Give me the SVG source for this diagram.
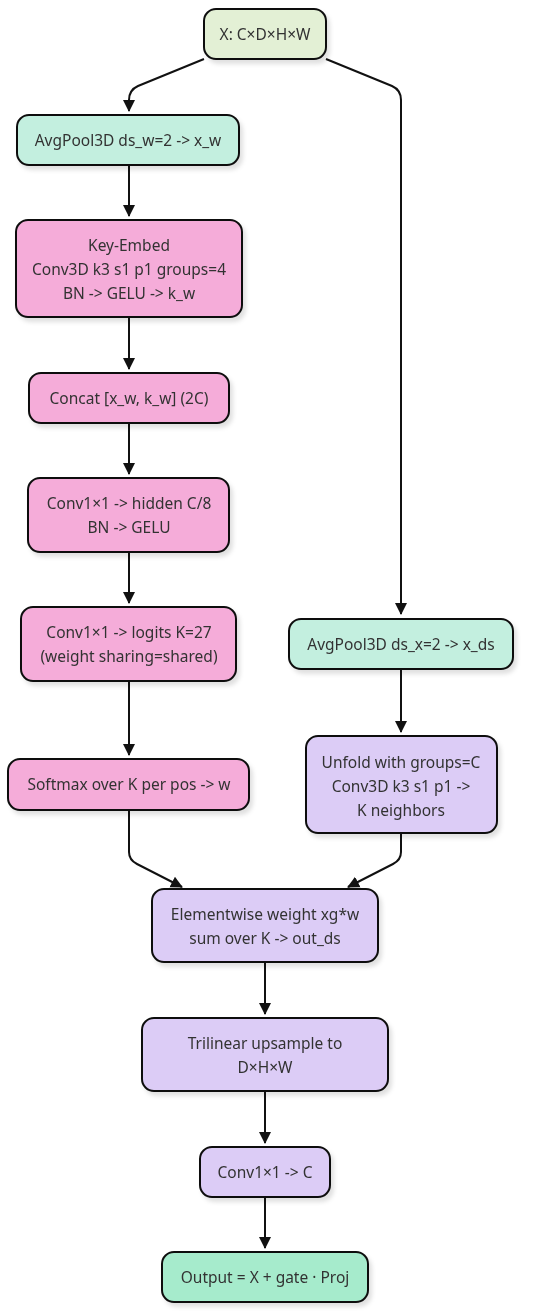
<svg xmlns="http://www.w3.org/2000/svg" width="550" height="1312" viewBox="0 0 550 1312">
<defs>
<style>
.n rect{stroke:#111;stroke-width:2;}
.n text{font-family:"Noto Sans","DejaVu Sans",sans-serif;font-size:15.5px;fill:#333;text-anchor:middle;dominant-baseline:central;}
.in rect{fill:#e3f0d5;}
.pool rect{fill:#c3efdf;}
.pink rect{fill:#f5acd9;}
.purp rect{fill:#dcccf6;}
.out rect{fill:#a6ebcc;}
#edges path{fill:none;stroke:#111;stroke-width:2;}
</style>
<filter id="sh" x="-10%" y="-10%" width="130%" height="140%">
<feDropShadow dx="3" dy="4" stdDeviation="2" flood-color="#000" flood-opacity="0.12"/>
</filter>
<marker id="ah" viewBox="0 0 12 12" refX="11" refY="6" markerWidth="12" markerHeight="13" markerUnits="userSpaceOnUse" orient="auto">
<path d="M0,0 L12,6 L0,12 z" fill="#111"/>
</marker>
</defs>
<rect width="550" height="1312" fill="#fff"/>
<g id="edges">
<path d="M204,59 L138,86 Q129,90 129,100 L129,111" marker-end="url(#ah)"/>
<path d="M326,59 L392,86 Q401,90 401,100 L401,614" marker-end="url(#ah)"/>
<path d="M129,165 L129,216" marker-end="url(#ah)"/>
<path d="M129,317 L129,369" marker-end="url(#ah)"/>
<path d="M129,423 L129,474" marker-end="url(#ah)"/>
<path d="M129,552 L129,603" marker-end="url(#ah)"/>
<path d="M129,681 L129,755" marker-end="url(#ah)"/>
<path d="M401,669 L401,732" marker-end="url(#ah)"/>
<path d="M129,810 L129,852 Q129,860 137,864 L182,887" marker-end="url(#ah)"/>
<path d="M401,833 L401,852 Q401,860 393,864 L348,887" marker-end="url(#ah)"/>
<path d="M265,962 L265,1014" marker-end="url(#ah)"/>
<path d="M265,1091 L265,1143" marker-end="url(#ah)"/>
<path d="M265,1197 L265,1248" marker-end="url(#ah)"/>
</g>
<g id="nX" class="n in" filter="url(#sh)"><rect x="204" y="9" width="122" height="50" rx="12"/><text x="265" y="34">X: C×D×H×W</text></g>
<g id="nPoolW" class="n pool" filter="url(#sh)"><rect x="17" y="115" width="222" height="50" rx="12"/><text x="128" y="140">AvgPool3D ds_w=2 -&gt; x_w</text></g>
<g id="nKey" class="n pink" filter="url(#sh)"><rect x="16" y="220" width="226" height="97" rx="12"/><text x="129" y="245">Key-Embed</text><text x="129" y="269">Conv3D k3 s1 p1 groups=4</text><text x="129" y="293">BN -&gt; GELU -&gt; k_w</text></g>
<g id="nConcat" class="n pink" filter="url(#sh)"><rect x="29" y="373" width="200" height="50" rx="12"/><text x="129" y="398">Concat [x_w, k_w] (2C)</text></g>
<g id="nHidden" class="n pink" filter="url(#sh)"><rect x="28" y="478" width="201" height="74" rx="12"/><text x="129" y="503">Conv1×1 -&gt; hidden C/8</text><text x="129" y="527">BN -&gt; GELU</text></g>
<g id="nLogits" class="n pink" filter="url(#sh)"><rect x="21" y="607" width="215" height="74" rx="12"/><text x="129" y="632">Conv1×1 -&gt; logits K=27</text><text x="129" y="656">(weight sharing=shared)</text></g>
<g id="nSoftmax" class="n pink" filter="url(#sh)"><rect x="8" y="759" width="241" height="51" rx="12"/><text x="129" y="784">Softmax over K per pos -&gt; w</text></g>
<g id="nPoolX" class="n pool" filter="url(#sh)"><rect x="289" y="619" width="224" height="50" rx="12"/><text x="401" y="644">AvgPool3D ds_x=2 -&gt; x_ds</text></g>
<g id="nUnfold" class="n purp" filter="url(#sh)"><rect x="306" y="736" width="191" height="97" rx="12"/><text x="401" y="762">Unfold with groups=C</text><text x="401" y="786">Conv3D k3 s1 p1 -&gt;</text><text x="401" y="810">K neighbors</text></g>
<g id="nElem" class="n purp" filter="url(#sh)"><rect x="152" y="889" width="226" height="73" rx="12"/><text x="265" y="914">Elementwise weight xg*w</text><text x="265" y="938">sum over K -&gt; out_ds</text></g>
<g id="nTri" class="n purp" filter="url(#sh)"><rect x="142" y="1018" width="246" height="73" rx="12"/><text x="265" y="1043">Trilinear upsample to</text><text x="265" y="1067">D×H×W</text></g>
<g id="nConvC" class="n purp" filter="url(#sh)"><rect x="200" y="1147" width="130" height="50" rx="12"/><text x="265" y="1172">Conv1×1 -&gt; C</text></g>
<g id="nOut" class="n out" filter="url(#sh)"><rect x="162" y="1252" width="206" height="50" rx="12"/><text x="265" y="1277">Output = X + gate · Proj</text></g>
</svg>
